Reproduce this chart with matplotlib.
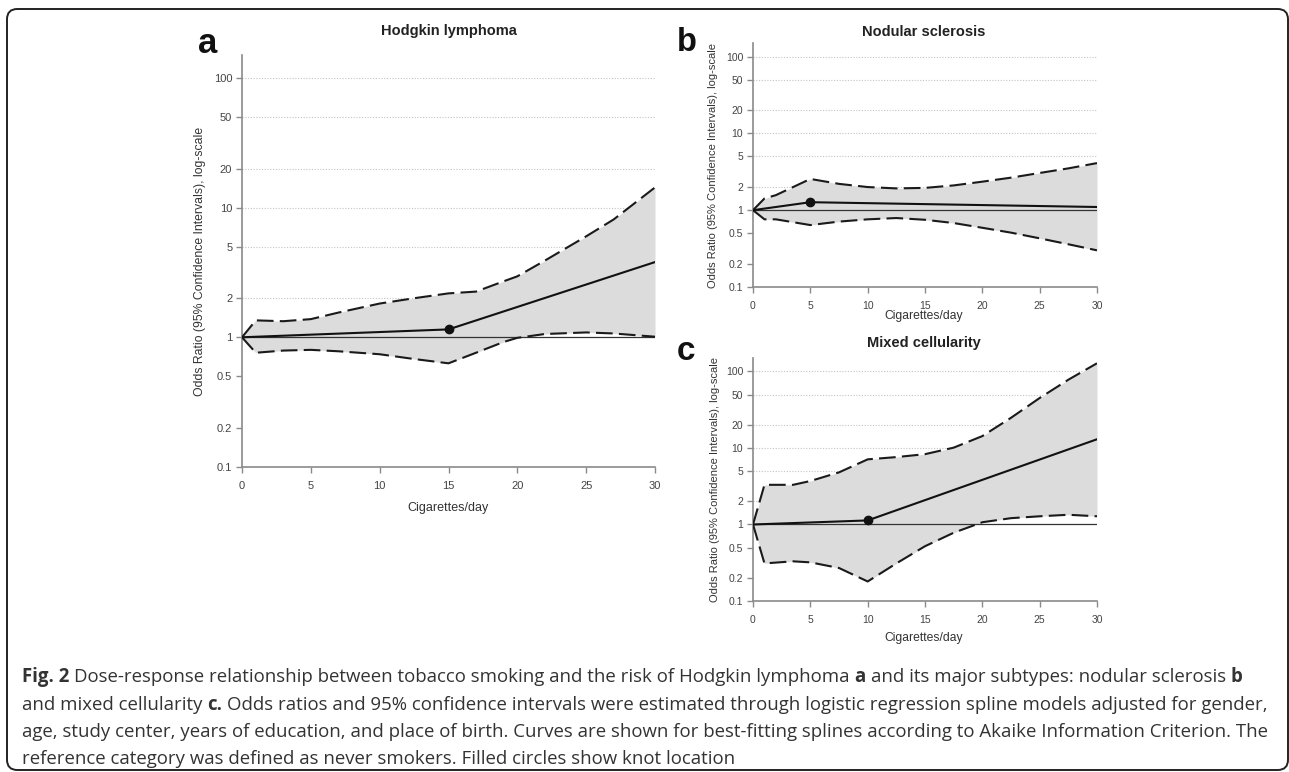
import numpy as np
import matplotlib
matplotlib.use("Agg")
import matplotlib.pyplot as plt
from matplotlib.patches import FancyBboxPatch
from matplotlib.ticker import FixedLocator, FixedFormatter, NullLocator

plt.rcParams['font.family'] = ['Liberation Sans', 'DejaVu Sans']

W, H = 1289, 772

# ---- data ----
a_x = [0, 1, 3, 5, 7, 10, 12.5, 15, 17, 19, 20, 22, 25, 27, 30]
a_upper = [1, 1.35, 1.33, 1.38, 1.55, 1.82, 2.0, 2.18, 2.25, 2.7, 2.95, 3.9, 6.0, 8.1, 14.3]
a_lower = [1, 0.76, 0.79, 0.80, 0.78, 0.74, 0.68, 0.63, 0.76, 0.92, 0.99, 1.06, 1.09, 1.07, 1.01]
a_est_x = [0, 15, 30]
a_est = [1, 1.15, 3.8]
a_knot = 15

b_x = [0, 1, 2, 5, 7.5, 10, 12.5, 15, 17.5, 20, 22.5, 25, 27.5, 30]
b_upper = [1, 1.42, 1.57, 2.55, 2.2, 2.0, 1.92, 1.95, 2.1, 2.35, 2.65, 3.05, 3.5, 4.1]
b_lower = [1, 0.76, 0.76, 0.64, 0.71, 0.76, 0.79, 0.75, 0.68, 0.59, 0.51, 0.43, 0.36, 0.30]
b_est_x = [0, 5, 30]
b_est = [1, 1.27, 1.1]
b_knot = 5

c_x = [0, 1, 3.5, 5, 7.5, 10, 12.5, 15, 17.5, 20, 22.5, 25, 27.5, 30]
c_upper = [1, 3.3, 3.3, 3.7, 4.8, 7.1, 7.6, 8.3, 10.1, 14.3, 24.8, 45, 78, 128]
c_lower = [1, 0.31, 0.33, 0.32, 0.27, 0.18, 0.31, 0.52, 0.78, 1.07, 1.21, 1.28, 1.34, 1.28]
c_est_x = [0, 10, 30]
c_est = [1, 1.13, 13]
c_knot = 10

yticks = [0.1, 0.2, 0.5, 1, 2, 5, 10, 20, 50, 100]
ytick_labels = ['0.1', '0.2', '0.5', '1', '2', '5', '10', '20', '50', '100']
grid_vals = [2, 5, 10, 20, 50, 100]
xticks = [0, 5, 10, 15, 20, 25, 30]

ylab = "Odds Ratio (95% Confidence Intervals), log-scale"
xlab = "Cigarettes/day"


def px_box(left, top, right, bottom):
    return [left / W, 1 - bottom / H, (right - left) / W, (bottom - top) / H]


fig = plt.figure(figsize=(W / 100, H / 100), dpi=100)


def panel(rect, x, upper, lower, ex, ey, knot, tsize):
    ax = fig.add_axes(rect)
    ax.fill_between(x, lower, upper, color='#dcdcdc', lw=0, zorder=1)
    for v in grid_vals:
        ax.axhline(v, color='#c4c4c4', lw=0.8, ls=(0, (1, 1.5)), zorder=0.5)
    ax.axhline(1, color='#333333', lw=0.9, zorder=2)
    ax.plot(x, upper, color='#1a1a1a', lw=1.5, ls=(0, (8, 3)), zorder=3)
    ax.plot(x, lower, color='#1a1a1a', lw=1.5, ls=(0, (8, 3)), zorder=3)
    ax.plot(ex, ey, color='#111111', lw=1.5, zorder=4)
    ax.plot([knot], [np.interp(knot, ex, ey)], 'o', color='#111111', ms=6, zorder=5)
    ax.set_yscale('log')
    ax.set_ylim(0.1, 150)
    ax.set_xlim(0, 30)
    ax.yaxis.set_major_locator(FixedLocator(yticks))
    ax.yaxis.set_major_formatter(FixedFormatter(ytick_labels))
    ax.yaxis.set_minor_locator(NullLocator())
    ax.set_xticks(xticks)
    for s in ['top', 'right']:
        ax.spines[s].set_visible(False)
    for s in ['left', 'bottom']:
        ax.spines[s].set_color('#8a8a8a')
        ax.spines[s].set_linewidth(1.2)
    ax.tick_params(length=4, width=1, color='#8a8a8a', labelsize=tsize,
                   labelcolor='#444444', pad=3)
    ax.tick_params(axis='x', pad=6)
    ax.set_facecolor('none')
    return ax


panel(px_box(242, 55, 655, 467), a_x, a_upper, a_lower, a_est_x, a_est, a_knot, 8)
panel(px_box(753, 43, 1097, 287), b_x, b_upper, b_lower, b_est_x, b_est, b_knot, 7.5)
panel(px_box(753, 358, 1097, 601), c_x, c_upper, c_lower, c_est_x, c_est, c_knot, 7.5)


def ftext(x, y, s, **kw):
    return fig.text(x / W, 1 - y / H, s, **kw)


# titles, panel letters, axis labels
ftext(449, 31, "Hodgkin lymphoma", ha='center', va='center', weight='bold', size=10.5, color='#222222')
ftext(924, 32, "Nodular sclerosis", ha='center', va='center', weight='bold', size=10.5, color='#222222')
ftext(924, 343, "Mixed cellularity", ha='center', va='center', weight='bold', size=10.5, color='#222222')

ftext(208, 53, "a", ha='center', va='baseline', weight='bold', size=25, color='#111111')
ftext(687, 51, "b", ha='center', va='baseline', weight='bold', size=23.5, color='#111111')
ftext(686, 360, "c", ha='center', va='baseline', weight='bold', size=24, color='#111111')

ftext(200, 261, ylab, ha='center', va='center', rotation=90, size=8.8, color='#333333')
ftext(713, 165, ylab, ha='center', va='center', rotation=90, size=8, color='#333333')
ftext(715, 479, ylab, ha='center', va='center', rotation=90, size=8, color='#333333')

ftext(448, 508, xlab, ha='center', va='center', size=9, color='#333333')
ftext(924, 316, xlab, ha='center', va='center', size=8.7, color='#333333')
ftext(924, 638, xlab, ha='center', va='center', size=8.7, color='#333333')

# frame (figure coords measured from the bottom)
frame = FancyBboxPatch((7 / W, 2 / H), (1288 - 7) / W, (763 - 2) / H,
                       boxstyle="round,pad=0,rounding_size=0.008",
                       transform=fig.transFigure, fill=False,
                       ec='#222222', lw=1.4, mutation_aspect=W / H)
fig.patches.append(frame)

# caption with bold runs
cap_lines = [
    [("Fig. 2", True), ("Dose-response relationship between tobacco smoking and the risk of Hodgkin lymphoma", False),
     ("a", True), ("and its major subtypes: nodular sclerosis", False), ("b", True)],
    [("and mixed cellularity", False), ("c.", True),
     ("Odds ratios and 95% confidence intervals were estimated through logistic regression spline models adjusted for gender,", False)],
    [("age, study center, years of education, and place of birth. Curves are shown for best-fitting splines according to Akaike Information Criterion. The", False)],
    [("reference category was defined as never smokers. Filled circles show knot location", False)],
]
cap_y = [677, 705, 732, 759]
cap_size = 13.4
cap_font = ['Open Sans', 'DejaVu Sans']

renderer = fig.canvas.get_renderer()


def width_of(s, bold):
    t = fig.text(0, 0, s, size=cap_size, family=cap_font, weight='bold' if bold else 'normal')
    w = t.get_window_extent(renderer).width
    t.remove()
    return w


space_w = width_of("x x", False) - width_of("xx", False)

for runs, y in zip(cap_lines, cap_y):
    x = 22
    for i, (s, bold) in enumerate(runs):
        if i > 0:
            x += space_w
        t = ftext(x, y, s, ha='left', va='center', size=cap_size, family=cap_font,
                  weight='bold' if bold else 'normal', color='#333333')
        x += t.get_window_extent(renderer).width

fig.savefig("out.png", dpi=100)
